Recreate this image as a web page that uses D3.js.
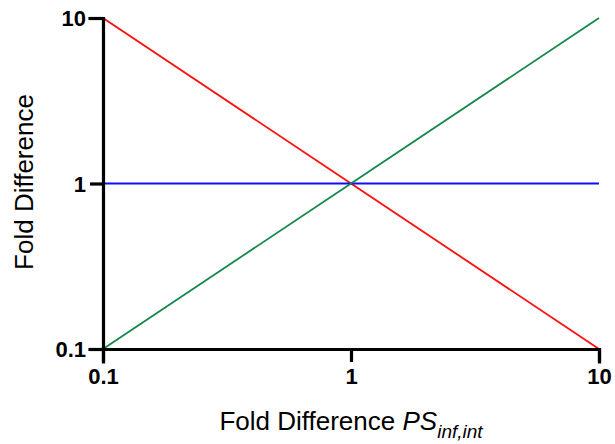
<!DOCTYPE html>
<html><head><meta charset="utf-8">
<script src="https://cdn.jsdelivr.net/npm/d3@7"></script>
<style>body{margin:0;background:#fff}svg{display:block}text{font-family:"Liberation Sans",Arial,sans-serif}</style>
</head><body>
<script>
const xTicks = [0.1, 1, 10];
const yTicks = [0.1, 1, 10];
const tickLabels = ["0.1", "1", "10"];
const seriesNames = ["underpredict", "unity", "overpredict"];
const xValues = [0.1, 1, 10];
const redValues = [10, 1, 0.1];
const blueValues = [1, 1, 1];
const greenValues = [0.1, 1, 10];
const colors = ["#ff0d0d", "#0d0dff", "#14884a"];

const W = 615, H = 444;
const svg = d3.select("body").append("svg").attr("width", W).attr("height", H);
const x = d3.scaleLog().domain([0.1, 10]).range([103, 599]);
const y = d3.scaleLog().domain([0.1, 10]).range([349, 18]);

const series = [redValues, blueValues, greenValues];
const line = d3.line().x(d => x(d[0])).y(d => y(d[1]));
series.forEach((vals, i) => {
  svg.append("path")
    .datum(xValues.map((xv, j) => [xv, vals[j]]))
    .attr("d", line).attr("fill", "none")
    .attr("stroke", colors[i]).attr("stroke-width", 1.8);
});

const xAxis = svg.append("g").attr("transform", `translate(0,349)`)
  .call(d3.axisBottom(x).tickValues(xTicks).tickFormat((d, i) => tickLabels[i]).tickSizeOuter(0).tickSize(13).tickPadding(6));
const yAxis = svg.append("g").attr("transform", `translate(103,0)`)
  .call(d3.axisLeft(y).tickValues(yTicks).tickFormat((d, i) => tickLabels[i]).tickSizeOuter(0).tickSize(13).tickPadding(4));
[xAxis, yAxis].forEach(g => {
  g.select(".domain").attr("stroke", "#000").attr("stroke-width", 3.2).attr("stroke-linecap", "square");
  g.selectAll(".tick line").attr("stroke", "#000").attr("stroke-width", 3.2);
  g.selectAll(".tick text").attr("fill", "#000").attr("font-size", 22).attr("font-weight", "bold")
    .attr("font-family", '"Liberation Sans", Arial, sans-serif');
});
yAxis.selectAll(".tick text").attr("dy", "0.36em");

const xt = svg.append("text").attr("x", 351).attr("y", 430).attr("text-anchor", "middle")
  .attr("font-size", 26).attr("fill", "#000");
xt.append("tspan").text("Fold Difference ");
xt.append("tspan").attr("font-style", "italic").text("PS");
xt.append("tspan").attr("font-style", "italic").attr("font-size", 19).attr("dy", 8).text("inf,int");

svg.append("text").attr("transform", "translate(33,182) rotate(-90)").attr("text-anchor", "middle")
  .attr("font-size", 26).attr("fill", "#000").text("Fold Difference");
</script>
</body></html>
